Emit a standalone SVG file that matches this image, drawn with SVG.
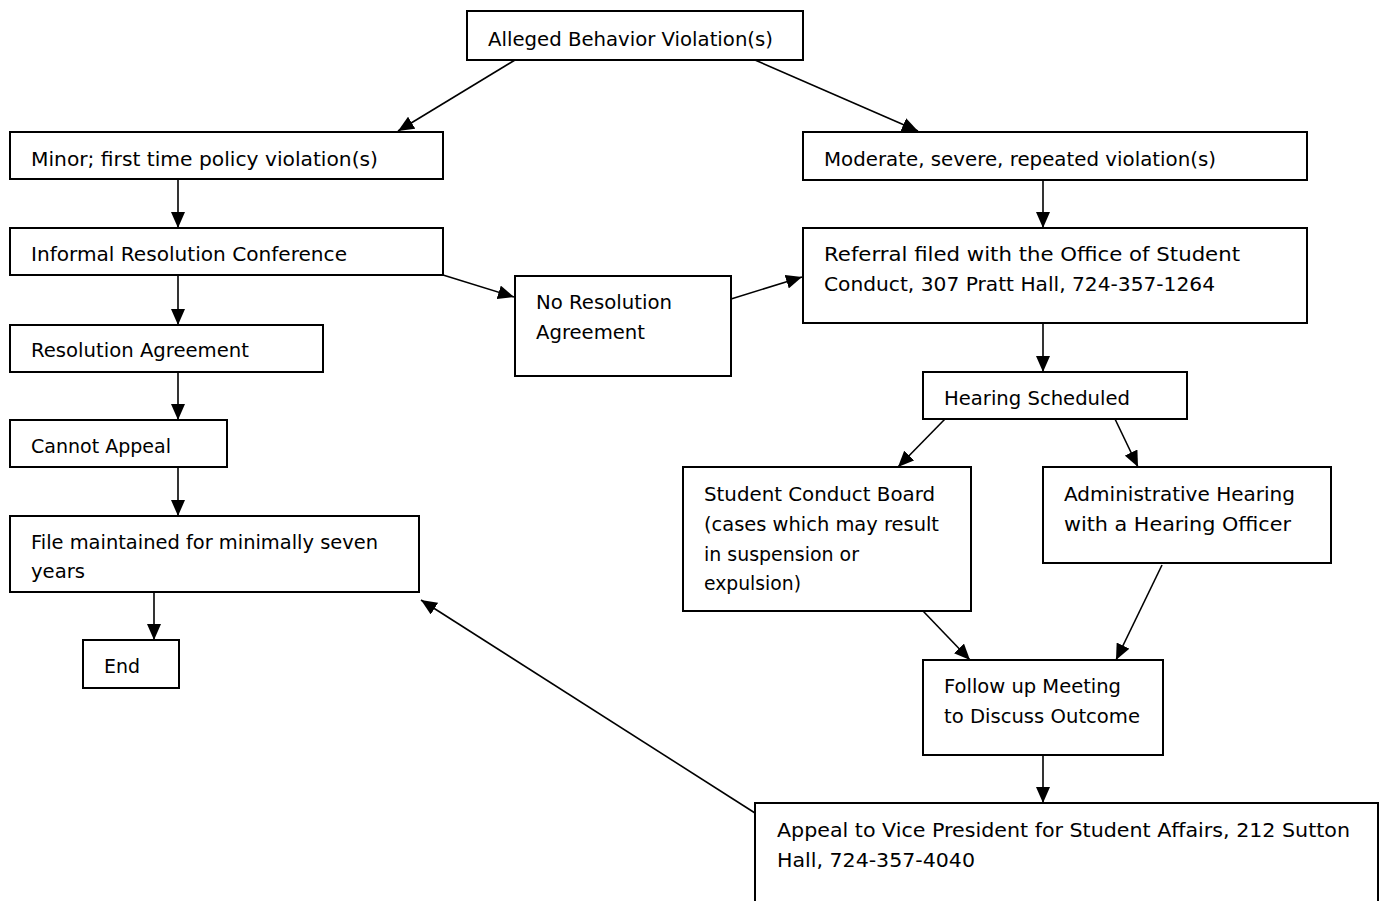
<svg xmlns="http://www.w3.org/2000/svg" width="1381" height="901" viewBox="0 0 1381 901">
<style>
rect.box{fill:#fff;stroke:#000;stroke-width:2}
text{font-family:"DejaVu Sans","Liberation Sans",sans-serif;font-size:20px;fill:#000}
#connectors path{fill:none;stroke:#000;stroke-width:1.6}
</style>
<defs>
<marker id="ah" viewBox="0 0 16 14" refX="16" refY="7" markerWidth="16" markerHeight="14" markerUnits="userSpaceOnUse" orient="auto"><path d="M0,0 L16,7 L0,14 z" fill="#000"/></marker>
</defs>
<rect width="1381" height="901" fill="#fff"/>
<g id="connectors">
<path d="M515,60 L398,131" marker-end="url(#ah)"/>
<path d="M755,60 L918,131" marker-end="url(#ah)"/>
<path d="M178,179 L178,228" marker-end="url(#ah)"/>
<path d="M1043,180 L1043,228" marker-end="url(#ah)"/>
<path d="M178,275 L178,325" marker-end="url(#ah)"/>
<path d="M443,275 L514,297" marker-end="url(#ah)"/>
<path d="M731,299 L802,277" marker-end="url(#ah)"/>
<path d="M178,372 L178,420" marker-end="url(#ah)"/>
<path d="M178,467 L178,516" marker-end="url(#ah)"/>
<path d="M154,592 L154,640" marker-end="url(#ah)"/>
<path d="M1043,323 L1043,372" marker-end="url(#ah)"/>
<path d="M945,419 L898,467" marker-end="url(#ah)"/>
<path d="M1115,419 L1138,467" marker-end="url(#ah)"/>
<path d="M923,611 L970,660" marker-end="url(#ah)"/>
<path d="M1162,565 L1116,660" marker-end="url(#ah)"/>
<path d="M1043,755 L1043,803" marker-end="url(#ah)"/>
<path d="M755,813 L421,600" marker-end="url(#ah)"/>
</g>
<g id="alleged"><rect class="box" x="467" y="11" width="336" height="49"/><text x="488" y="46" textLength="285" lengthAdjust="spacingAndGlyphs">Alleged Behavior Violation(s)</text></g>
<g id="minor"><rect class="box" x="10" y="132" width="433" height="47"/><text x="31" y="166" textLength="347" lengthAdjust="spacingAndGlyphs">Minor; first time policy violation(s)</text></g>
<g id="moderate"><rect class="box" x="803" y="132" width="504" height="48"/><text x="824" y="166" textLength="392" lengthAdjust="spacingAndGlyphs">Moderate, severe, repeated violation(s)</text></g>
<g id="informal"><rect class="box" x="10" y="228" width="433" height="47"/><text x="31" y="261" textLength="316" lengthAdjust="spacingAndGlyphs">Informal Resolution Conference</text></g>
<g id="noresolution"><rect class="box" x="515" y="276" width="216" height="100"/><text x="536" y="309" textLength="136" lengthAdjust="spacingAndGlyphs">No Resolution</text><text x="536" y="339" textLength="109" lengthAdjust="spacingAndGlyphs">Agreement</text></g>
<g id="referral"><rect class="box" x="803" y="228" width="504" height="95"/><text x="824" y="261" textLength="416" lengthAdjust="spacingAndGlyphs">Referral filed with the Office of Student</text><text x="824" y="291" textLength="391" lengthAdjust="spacingAndGlyphs">Conduct, 307 Pratt Hall, 724-357-1264</text></g>
<g id="resolution"><rect class="box" x="10" y="325" width="313" height="47"/><text x="31" y="357" textLength="218" lengthAdjust="spacingAndGlyphs">Resolution Agreement</text></g>
<g id="cannot"><rect class="box" x="10" y="420" width="217" height="47"/><text x="31" y="453" textLength="140" lengthAdjust="spacingAndGlyphs">Cannot Appeal</text></g>
<g id="file"><rect class="box" x="10" y="516" width="409" height="76"/><text x="31" y="549" textLength="347" lengthAdjust="spacingAndGlyphs">File maintained for minimally seven</text><text x="31" y="578" textLength="54" lengthAdjust="spacingAndGlyphs">years</text></g>
<g id="end"><rect class="box" x="83" y="640" width="96" height="48"/><text x="104" y="673" textLength="36" lengthAdjust="spacingAndGlyphs">End</text></g>
<g id="hearing"><rect class="box" x="923" y="372" width="264" height="47"/><text x="944" y="405" textLength="186" lengthAdjust="spacingAndGlyphs">Hearing Scheduled</text></g>
<g id="board"><rect class="box" x="683" y="467" width="288" height="144"/><text x="704" y="501" textLength="231" lengthAdjust="spacingAndGlyphs">Student Conduct Board</text><text x="704" y="531" textLength="235" lengthAdjust="spacingAndGlyphs">(cases which may result</text><text x="704" y="561" textLength="155" lengthAdjust="spacingAndGlyphs">in suspension or</text><text x="704" y="590" textLength="97" lengthAdjust="spacingAndGlyphs">expulsion)</text></g>
<g id="admin"><rect class="box" x="1043" y="467" width="288" height="96"/><text x="1064" y="501" textLength="231" lengthAdjust="spacingAndGlyphs">Administrative Hearing</text><text x="1064" y="531" textLength="227" lengthAdjust="spacingAndGlyphs">with a Hearing Officer</text></g>
<g id="followup"><rect class="box" x="923" y="660" width="240" height="95"/><text x="944" y="693" textLength="177" lengthAdjust="spacingAndGlyphs">Follow up Meeting</text><text x="944" y="723" textLength="196" lengthAdjust="spacingAndGlyphs">to Discuss Outcome</text></g>
<g id="appeal"><rect class="box" x="755" y="803" width="623" height="120"/><text x="777" y="837" textLength="573" lengthAdjust="spacingAndGlyphs">Appeal to Vice President for Student Affairs, 212 Sutton</text><text x="777" y="867" textLength="198" lengthAdjust="spacingAndGlyphs">Hall, 724-357-4040</text></g>
</svg>
